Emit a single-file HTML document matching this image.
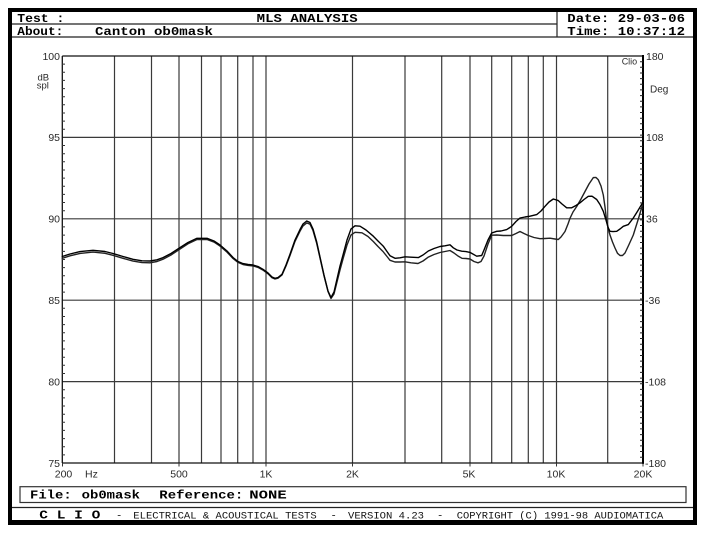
<!DOCTYPE html>
<html><head><meta charset="utf-8"><style>
html,body{margin:0;padding:0;background:#fff;}
svg{display:block;}
.hd{font-family:"Liberation Mono",monospace;font-weight:bold;font-size:11.5px;fill:#000;}
.ax{font-family:"Liberation Sans",sans-serif;font-size:10.5px;fill:#2a2a2a;}
.th{font-family:"Liberation Mono",monospace;font-size:10.5px;fill:#111;}
</style></head><body>
<svg width="705" height="536" viewBox="0 0 705 536" xmlns="http://www.w3.org/2000/svg">
<rect x="0" y="0" width="705" height="536" fill="#fff"/>
<rect x="8" y="8" width="689" height="517" fill="#000"/>
<rect x="12" y="12" width="681" height="508" fill="#fff"/>
<g stroke="#222" stroke-width="1.2">
<line x1="12" y1="24" x2="557" y2="24"/>
<line x1="557" y1="12" x2="557" y2="37"/>
<line x1="12" y1="37" x2="693" y2="37"/>
<line x1="12" y1="507.5" x2="693" y2="507.5"/>
</g>
<rect x="20" y="486.7" width="666" height="15.8" fill="none" stroke="#333" stroke-width="1.2"/>
<text class="hd" x="17.3" y="22" textLength="47" lengthAdjust="spacingAndGlyphs">Test :</text>
<text class="hd" x="256.7" y="22" textLength="101" lengthAdjust="spacingAndGlyphs">MLS ANALYSIS</text>
<text class="hd" x="17.3" y="35" textLength="46" lengthAdjust="spacingAndGlyphs">About:</text>
<text class="hd" x="95" y="35" textLength="118" lengthAdjust="spacingAndGlyphs">Canton ob0mask</text>
<text class="hd" x="567.3" y="22" textLength="117.7" lengthAdjust="spacingAndGlyphs">Date: 29-03-06</text>
<text class="hd" x="567.3" y="35" textLength="117.7" lengthAdjust="spacingAndGlyphs">Time: 10:37:12</text>
<text class="hd" x="30" y="498.5" textLength="41.7" lengthAdjust="spacingAndGlyphs">File:</text>
<text class="hd" x="81.7" y="498.5" textLength="58.3" lengthAdjust="spacingAndGlyphs">ob0mask</text>
<text class="hd" x="159.3" y="498.5" textLength="84" lengthAdjust="spacingAndGlyphs">Reference:</text>
<text class="hd" x="249.3" y="498.5" textLength="37.4" lengthAdjust="spacingAndGlyphs">NONE</text>
<text class="hd" x="39.3" y="518.3" textLength="61" lengthAdjust="spacingAndGlyphs">C L I O</text>
<text class="th" x="116" y="518.3">-</text>
<text class="th" x="133.3" y="518.3" textLength="183.4" lengthAdjust="spacingAndGlyphs">ELECTRICAL &amp; ACOUSTICAL TESTS</text>
<text class="th" x="330.5" y="518.3">-</text>
<text class="th" x="348" y="518.3" textLength="76" lengthAdjust="spacingAndGlyphs">VERSION 4.23</text>
<text class="th" x="437" y="518.3">-</text>
<text class="th" x="456.7" y="518.3" textLength="206.6" lengthAdjust="spacingAndGlyphs">COPYRIGHT (C) 1991-98 AUDIOMATICA</text>
<g stroke="#3a3a3a" stroke-width="1.2">
<line x1="114.5" y1="56" x2="114.5" y2="463"/>
<line x1="151.5" y1="56" x2="151.5" y2="463"/>
<line x1="179" y1="56" x2="179" y2="463"/>
<line x1="201.5" y1="56" x2="201.5" y2="463"/>
<line x1="221" y1="56" x2="221" y2="463"/>
<line x1="237.7" y1="56" x2="237.7" y2="463"/>
<line x1="253" y1="56" x2="253" y2="463"/>
<line x1="266" y1="56" x2="266" y2="463"/>
<line x1="352.5" y1="56" x2="352.5" y2="463"/>
<line x1="405" y1="56" x2="405" y2="463"/>
<line x1="441.7" y1="56" x2="441.7" y2="463"/>
<line x1="470" y1="56" x2="470" y2="463"/>
<line x1="491.7" y1="56" x2="491.7" y2="463"/>
<line x1="511.7" y1="56" x2="511.7" y2="463"/>
<line x1="528.3" y1="56" x2="528.3" y2="463"/>
<line x1="543.3" y1="56" x2="543.3" y2="463"/>
<line x1="556.5" y1="56" x2="556.5" y2="463"/>
<line x1="607.7" y1="56" x2="607.7" y2="463"/>
<line x1="62.3" y1="137.4" x2="643" y2="137.4"/>
<line x1="62.3" y1="218.8" x2="643" y2="218.8"/>
<line x1="62.3" y1="300.2" x2="643" y2="300.2"/>
<line x1="62.3" y1="381.6" x2="643" y2="381.6"/>
</g>
<g stroke="#111" stroke-width="1.3" fill="none">
<line x1="62.3" y1="56" x2="643" y2="56"/>
<line x1="62.3" y1="463" x2="643" y2="463"/>
<line x1="62.3" y1="56" x2="62.3" y2="463"/>
</g>
<line x1="643" y1="55" x2="643" y2="464" stroke="#000" stroke-width="2"/>
<path stroke="#333" stroke-width="1" d="M62,64.1h3M62,72.3h3M62,80.4h3M62,88.6h3M62,96.7h3M62,104.8h3M62,113h3M62,121.1h3M62,129.3h3
M62,145.5h3M62,153.7h3M62,161.8h3M62,170h3M62,178.1h3M62,186.2h3M62,194.4h3M62,202.5h3M62,210.7h3
M62,226.9h3M62,235.1h3M62,243.2h3M62,251.4h3M62,259.5h3M62,267.6h3M62,275.8h3M62,283.9h3M62,292.1h3
M62,308.3h3M62,316.5h3M62,324.6h3M62,332.8h3M62,340.9h3M62,349h3M62,357.2h3M62,365.3h3M62,373.5h3
M62,389.7h3M62,397.9h3M62,406h3M62,414.2h3M62,422.3h3M62,430.4h3M62,438.6h3M62,446.7h3M62,454.9h3"/>
<path stroke="#222" stroke-width="1" d="M640,61.7h3M640,67.3h3M640,73h3M640,78.6h3M640,84.3h3M640,89.9h3M640,95.6h3M640,101.2h3M640,106.9h3M640,112.5h3M640,118.2h3M640,123.8h3M640,129.5h3M640,135.1h3M640,140.8h3M640,146.4h3M640,152.1h3M640,157.7h3M640,163.4h3M640,169h3M640,174.7h3M640,180.3h3M640,186h3M640,191.6h3M640,197.3h3M640,202.9h3M640,208.6h3M640,214.2h3M640,219.9h3M640,225.5h3M640,231.2h3M640,236.8h3M640,242.5h3M640,248.1h3M640,253.8h3M640,259.4h3M640,265.1h3M640,270.7h3M640,276.4h3M640,282h3M640,287.7h3M640,293.3h3M640,299h3M640,304.6h3M640,310.3h3M640,315.9h3M640,321.6h3M640,327.2h3M640,332.9h3M640,338.5h3M640,344.2h3M640,349.8h3M640,355.5h3M640,361.1h3M640,366.8h3M640,372.4h3M640,378.1h3M640,383.7h3M640,389.4h3M640,395h3M640,400.7h3M640,406.3h3M640,412h3M640,417.6h3M640,423.3h3M640,428.9h3M640,434.6h3M640,440.2h3M640,445.9h3M640,451.5h3M640,457.2h3"/>
<path stroke="#333" stroke-width="1" d="M62.5,463v3.5M179,463v3.5M266,463v3.5M352.5,463v3.5M470,463v3.5M556.5,463v3.5M643,463v3.5"/>
<g class="ax" text-anchor="end">
<text x="60" y="59.8">100</text>
<text x="60" y="141">95</text>
<text x="60" y="222.5">90</text>
<text x="60" y="304">85</text>
<text x="60" y="385.3">80</text>
<text x="60" y="467">75</text>
</g>
<g class="ax">
<text x="37.5" y="80.3" font-size="9.5">dB</text>
<text x="36.7" y="88.3" font-size="9.5">spl</text>
<text x="646" y="59.8">180</text>
<text x="650" y="92.5" font-size="10">Deg</text>
<text x="621.7" y="64.5" font-size="9">Clio</text>
<text x="646" y="141">108</text>
<text x="646" y="222.5">36</text>
<text x="645" y="304">-36</text>
<text x="645" y="385.3">-108</text>
<text x="645" y="467">-180</text>
<text x="85" y="477.5">Hz</text>
</g>
<g class="ax" text-anchor="middle">
<text x="63.5" y="477.5">200</text>
<text x="179" y="477.5">500</text>
<text x="266" y="477.5">1K</text>
<text x="352.5" y="477.5">2K</text>
<text x="469" y="477.5">5K</text>
<text x="556" y="477.5">10K</text>
<text x="643" y="477.5">20K</text>
</g>
<g fill="none" stroke="#000" stroke-width="1.4" stroke-linejoin="round" stroke-linecap="round">
<polyline stroke="#222" points="62.3,258.3 70,255.8 80,253.4 93,252.1 105,253.3 113,255.3 123,258.3 133,261.1 142,262.6 150,262.8 157,261.5 163,259.2 171,255 180,249 188,243.8 197,239.5 207,239.5 214,242.1 220,246.1 227,252.1 233,258.5 238,262.4 243,264.5 248,265.4 253,265.9 258,267.4 263,270.1 268,273.8 272,277.7 275,279 278,278.2 282,275 286,266 290,255.5 295,241.4 300,231.2 303,225.9 306.7,222.9 310,224.2 313,230.5 316.7,243.3 320,258 324,275.8 328,291.5 331,298.5 334,294 337,282 340,270 343,259 347,245 351,235 355,232.3 362,232.8 368,236.5 373.3,241.5 378,246.5 383,251.5 387,256.5 390,260.3 395,262 400,262 405,261.8 411,262.8 418,263.5 423,261 428,257.3 434,254.5 440,252.5 445,251.5 450,250.5 454,253 458,256 462,258.3 466,258.5 470,259 474,261.5 478,262.8 481,261.5 484,256 488,244 491.7,235.2 496.7,235 503.3,235.5 511.7,235.5 516,233.5 520,231.5 524,233.5 528.3,235.5 534,237.5 540,238.7 545,238.5 550,238.2 555,239 558.3,239.5 561,237 565,231.5 568,224 570,218.3 573,212 576.7,206.5 581,199 585,191.5 589,184 593.3,177.6 596,177.5 598.3,179.8 601,186 603.3,195 605,207 606.7,221.5 608.3,229 610,235 612.5,242 615,248 617.5,253.3 620,255.5 622.5,255.5 625,253 629,244.5 633.3,235 638,220 642.5,205"/>
<polyline points="62.3,256.5 70,254 80,251.6 93,250.3 105,251.5 113,253.5 123,256.5 133,259.3 142,260.8 150,261 157,259.8 163,257.6 171,253.5 180,247.6 188,242.5 197,238.3 207,238.3 214,241 220,245 227,251 233,257.5 238,261.5 243,263.6 248,264.5 253,265 258,266.5 263,269.3 268,273 272,277 275,278.3 278,277.5 282,274.3 286,265 290,254.3 295,240 300,229.5 303,224 306.7,221 310,222.5 313,229 316.7,242 320,257 324,275 328,291 331,297.5 334,292 337,279 340,266 343,255 347,240 351,229 355,225.8 360,226.2 366,230 373.3,236.2 378,241 383.3,246.2 387,251.5 390,255.7 395,258.3 400,257.8 405,256.8 411,257.2 418.3,257.6 423,255 428.3,251 434,248.5 440,246.5 445,245.8 450,244.8 453.3,247.8 457,250 461.7,251.2 466,251.6 470,252.4 476.7,256.2 481.7,255.5 484,250 488,240 491.7,233 496.7,231.3 501,231 506.7,229.6 511.7,226.3 516,221.5 520,218 525,217 530,216.2 536.7,214.6 541,211 545,206.3 549,202 553.3,199 558.3,200.6 562,204 566.7,207.8 571.7,207.8 576,205.5 580,202.8 584,199.5 588.3,196.3 592,196.2 596.7,199.5 600,204.5 603.3,211.3 606,220 608.3,228 610,231.3 613,231.6 616.7,231.3 620,229 623.3,226.3 628.3,224.6 633.3,218 638,210.5 642.5,203"/>
</g>
</svg>
</body></html>
